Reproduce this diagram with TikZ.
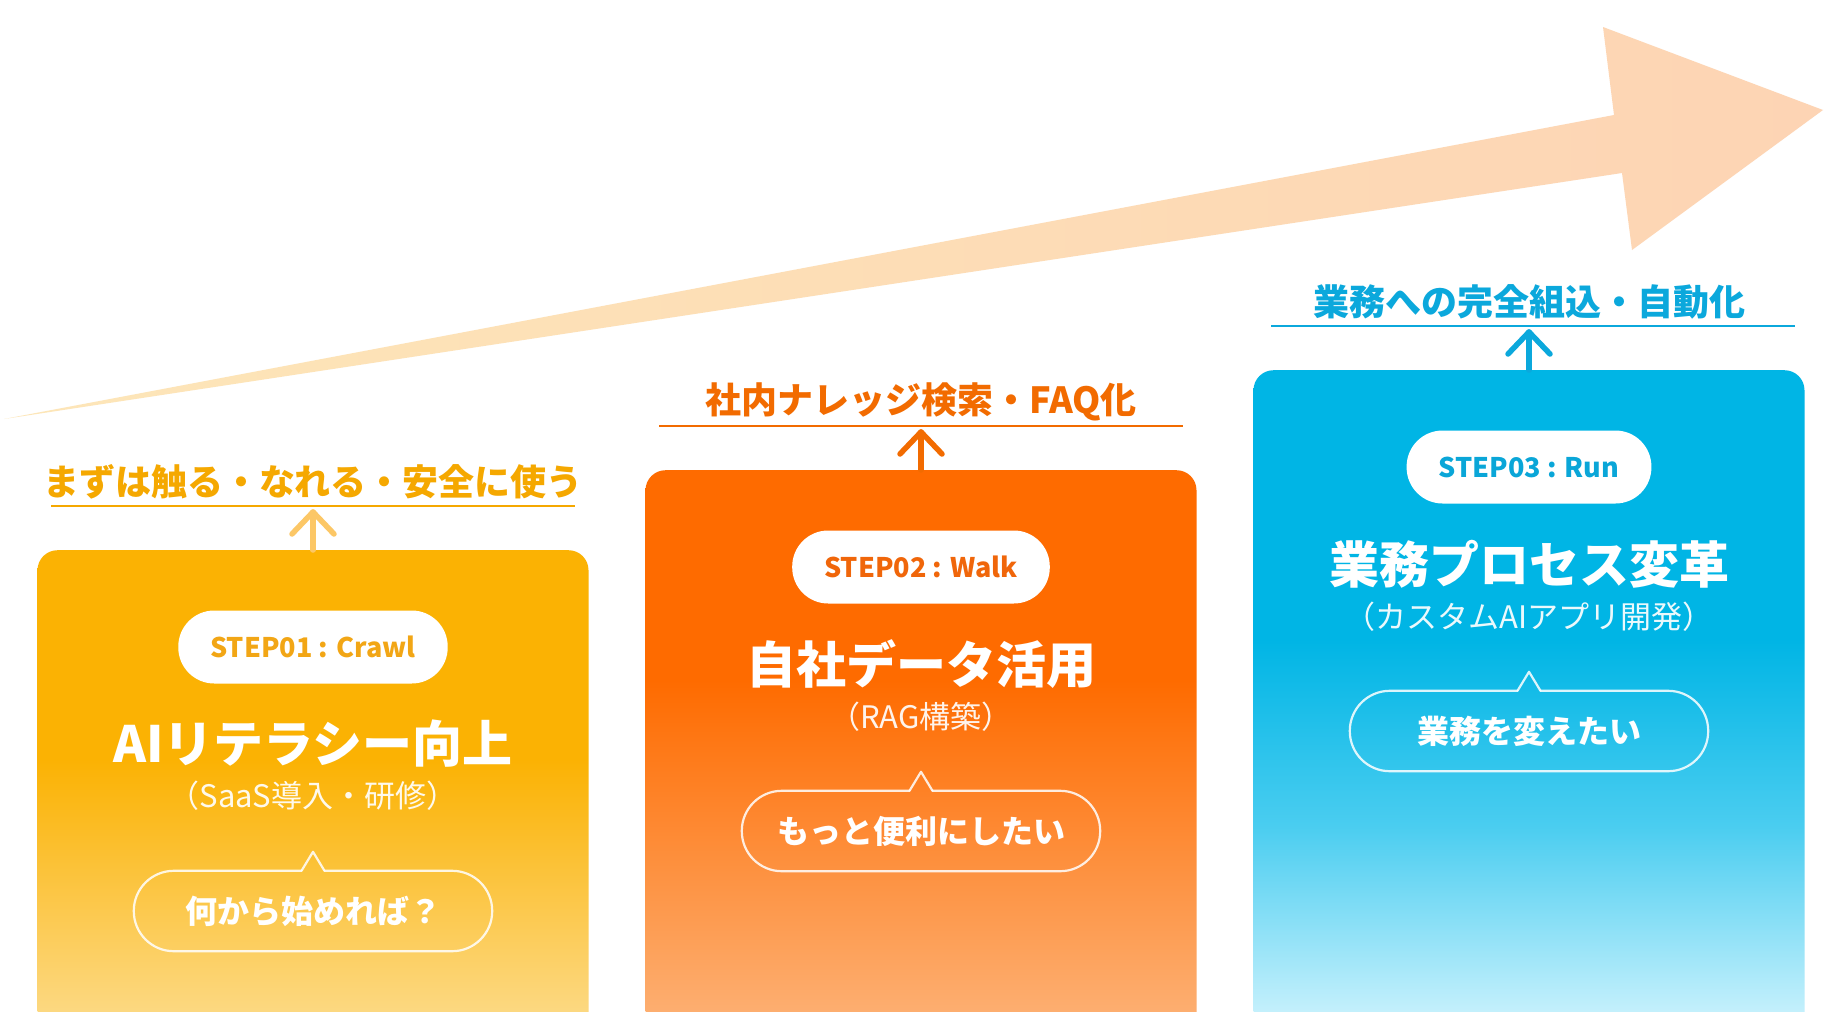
\documentclass[tikz,border=0pt]{standalone}
\usepackage{fontspec}
\setmainfont{Noto Sans CJK JP}
\definecolor{cA}{HTML}{FBB203}
\definecolor{cAb}{HTML}{FCD880}
\definecolor{cB}{HTML}{FE6B00}
\definecolor{cBb}{HTML}{FDAE70}
\definecolor{cC}{HTML}{00B5E5}
\definecolor{cCm}{HTML}{4ACDF0}
\definecolor{cCb}{HTML}{C4F0FC}
\definecolor{labA}{HTML}{F5A800}
\definecolor{arrA}{HTML}{FCC766}
\definecolor{labB}{HTML}{F26B00}
\definecolor{labC}{HTML}{0BA8DC}
\definecolor{pillA}{HTML}{F2A615}
\definecolor{pillB}{HTML}{F0660A}
\definecolor{pillC}{HTML}{0AA6D8}
\definecolor{arL}{HTML}{FDE6B8}
\definecolor{arR}{HTML}{FDD4B4}
\pgfdeclareverticalshading{shA}{100bp}{color(0bp)=(cAb); color(28bp)=(cAb); color(53.6bp)=(cA); color(100bp)=(cA)}
\pgfdeclareverticalshading{shB}{100bp}{color(0bp)=(cBb); color(27.5bp)=(cBb); color(56.6bp)=(cB); color(100bp)=(cB)}
\pgfdeclareverticalshading{shC}{100bp}{color(0bp)=(cCb); color(27.1bp)=(cCb); color(41bp)=(cCm); color(54.9bp)=(cC); color(100bp)=(cC)}
\tikzset{
  card/.style={shade, rounded corners=20pt, minimum width=551pt, inner sep=0pt, anchor=north, draw=none},
  lab/.style={font=\fontsize{36}{36}\selectfont\bfseries, inner sep=0pt},
  uline/.style={line width=2.5pt},
  uparrow/.style={line width=5.5pt, line cap=round, line join=round},
  pill/.style={fill=white, rounded corners=36pt, minimum height=73pt, inner xsep=32pt, inner ysep=0pt, font=\fontsize{27}{27}\selectfont\bfseries},
  ttl/.style={text=white, font=\fontsize{50}{50}\selectfont\bfseries, inner sep=0pt},
  subt/.style={text=white, text opacity=0.92, font=\fontsize{31}{31}\selectfont, inner sep=0pt},
  bub/.style={minimum width=358pt, minimum height=80pt, inner sep=0pt, text=white, font=\fontsize{32}{32}\selectfont\bfseries},
  bubline/.style={draw=white, draw opacity=0.85, line width=2.2pt, line cap=round, line join=round}
}
\begin{document}
\begin{tikzpicture}[x=1pt, y=-1pt]
\useasboundingbox (0,0) rectangle (1840,1012);
\fill[white] (0,0) rectangle (1840,1012);
% big arrow
\shade[left color=arL, right color=arR] (4,419) -- (1614,115) -- (1603,27) -- (1823,110) -- (1632,250) -- (1622,173) -- cycle;

% ---------- card 1 ----------
\node[card, shading=shA, minimum height=490pt] (c1) at (313,550) {};
\node[lab, text=labA] (l1) at (313,482) {まずは触る・なれる・安全に使う};
\coordinate (u1a) at (51,506); \coordinate (u1b) at (575,506);
\draw[uline, draw=labA] (u1a) -- (u1b);
\coordinate (t1) at (313,512);
\draw[uparrow, draw=arrA] (c1.north) -- (t1);
\draw[uparrow, draw=arrA] ([shift={(-21pt,-22pt)}]t1) -- (t1) -- ([shift={(21pt,-22pt)}]t1);
\node[pill, text=pillA] (p1) at (313,647) {STEP01 : Crawl};
\node[ttl] (h1) at (313,744) {AIリテラシー向上};
\node[subt] (s1) at (313,796) {（SaaS導入・研修）};
\node[bub] (b1) at (313,911) {何から始めれば？};
\draw[bubline, rounded corners=40pt] ([xshift=11.5pt]b1.north) -- (b1.north east) -- (b1.south east) -- (b1.south west) -- (b1.north west) -- ([xshift=-11.5pt]b1.north);
\draw[bubline] ([xshift=-11.5pt]b1.north) -- ([yshift=19pt]b1.north) -- ([xshift=11.5pt]b1.north);

% ---------- card 2 ----------
\node[card, shading=shB, minimum height=570pt] (c2) at (921,470) {};
\node[lab, text=labB] (l2) at (921,402) {社内ナレッジ検索・FAQ化};
\coordinate (u2a) at (659,426); \coordinate (u2b) at (1183,426);
\draw[uline, draw=labB] (u2a) -- (u2b);
\coordinate (t2) at (921,432);
\draw[uparrow, draw=labB] (c2.north) -- (t2);
\draw[uparrow, draw=labB] ([shift={(-21pt,-22pt)}]t2) -- (t2) -- ([shift={(21pt,-22pt)}]t2);
\node[pill, text=pillB] (p2) at (921,567) {STEP02 : Walk};
\node[ttl] (h2) at (921,664) {自社データ活用};
\node[subt] (s2) at (921,717) {（RAG構築）};
\node[bub] (b2) at (921,831) {もっと便利にしたい};
\draw[bubline, rounded corners=40pt] ([xshift=11.5pt]b2.north) -- (b2.north east) -- (b2.south east) -- (b2.south west) -- (b2.north west) -- ([xshift=-11.5pt]b2.north);
\draw[bubline] ([xshift=-11.5pt]b2.north) -- ([yshift=19pt]b2.north) -- ([xshift=11.5pt]b2.north);

% ---------- card 3 ----------
\node[card, shading=shC, minimum height=670pt] (c3) at (1529,370) {};
\node[lab, text=labC] (l3) at (1529,302) {業務への完全組込・自動化};
\coordinate (u3a) at (1271,326); \coordinate (u3b) at (1795,326);
\draw[uline, draw=labC] (u3a) -- (u3b);
\coordinate (t3) at (1529,332);
\draw[uparrow, draw=labC] (c3.north) -- (t3);
\draw[uparrow, draw=labC] ([shift={(-21pt,-22pt)}]t3) -- (t3) -- ([shift={(21pt,-22pt)}]t3);
\node[pill, text=pillC] (p3) at (1529,467) {STEP03 : Run};
\node[ttl] (h3) at (1529,564) {業務プロセス変革};
\node[subt] (s3) at (1529,617) {（カスタムAIアプリ開発）};
\node[bub] (b3) at (1529,731) {業務を変えたい};
\draw[bubline, rounded corners=40pt] ([xshift=11.5pt]b3.north) -- (b3.north east) -- (b3.south east) -- (b3.south west) -- (b3.north west) -- ([xshift=-11.5pt]b3.north);
\draw[bubline] ([xshift=-11.5pt]b3.north) -- ([yshift=19pt]b3.north) -- ([xshift=11.5pt]b3.north);
\end{tikzpicture}
\end{document}
